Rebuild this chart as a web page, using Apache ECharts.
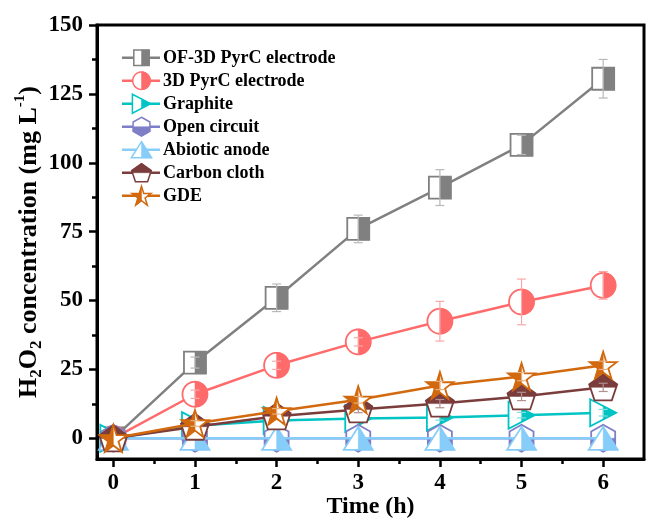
<!DOCTYPE html>
<html>
<head>
<meta charset="utf-8">
<script src="https://cdn.jsdelivr.net/npm/echarts@6/dist/echarts.min.js"></script>
<style>
html, body { margin: 0; padding: 0; background: #fff; }
#chart { width: 648px; height: 518px; }
</style>
</head>
<body>
<div id="chart"></div>
<script>
// x values (hours) and axis ticks
const hours = [0, 1, 2, 3, 4, 5, 6];
const xTicks = [0, 1, 2, 3, 4, 5, 6];
const xMinorTicks = [0.5, 1.5, 2.5, 3.5, 4.5, 5.5];
const yTicks = [0, 25, 50, 75, 100, 125, 150];
const yMinorTicks = [12.5, 37.5, 62.5, 87.5, 112.5, 137.5];

const seriesNames = ['OF-3D PyrC electrode', '3D PyrC electrode', 'Graphite', 'Open circuit',
    'Abiotic anode', 'Carbon cloth', 'GDE'];

// H2O2 concentration (mg/L) and error bars
const ofPyrC = [0, 27.5, 51, 76, 91, 106.5, 130.5];
const ofPyrCErr = [0, 2, 5, 5, 6.5, 3.5, 7];
const pyrC = [0, 16, 26.5, 35, 42.5, 49.5, 55.5];
const pyrCErr = [0, 1.5, 1.5, 1.5, 7.2, 8.3, 5];
const graphite = [0, 4.6, 6.5, 7.2, 7.6, 8.4, 9.3];
const graphiteErr = [0, 0.8, 0.8, 1, 1, 1, 1.2];
const openCircuit = [0, 0, 0, 0, 0, 0, 0];
const openCircuitErr = [0, 0, 0, 0, 0, 0, 0];
const abiotic = [0, 0, 0, 0, 0, 0, 0];
const abioticErr = [0, 0, 0, 0, 0, 0, 0];
const carbonCloth = [0, 4.2, 8, 10.5, 12.6, 15.2, 18.5];
const carbonClothErr = [0, 1, 1.2, 1.2, 1.5, 1.5, 1.5];
const gde = [0, 5.4, 9.8, 14, 19.2, 22.4, 26.5];
const gdeErr = [0, 1, 1, 1.2, 1.5, 1.5, 1.5];

const values = [ofPyrC, pyrC, graphite, openCircuit, abiotic, carbonCloth, gde];
const errors = [ofPyrCErr, pyrCErr, graphiteErr, openCircuitErr, abioticErr, carbonClothErr, gdeErr];

// look of each plot
const looks = [
    { color: '#808080', bar: '#b9b9b9', shape: 'square', w: 22, h: 22 },
    { color: '#ff6b6b', bar: '#f7a9a9', shape: 'circle', w: 25, h: 25 },
    { color: '#00c4c4', bar: '#7fdede', shape: 'triRight', w: 26, h: 27 },
    { color: '#7f7fc8', bar: '#b5b5e0', shape: 'hexagon', w: 24, h: 27 },
    { color: '#87cdf9', bar: '#c0e4fb', shape: 'triUp', w: 29, h: 23 },
    { color: '#7b3c3c', bar: '#b09090', shape: 'pentagon', w: 28, h: 26 },
    { color: '#d2690e', bar: '#e8b080', shape: 'star', w: 27, h: 27 }
];

const FONT = '"Liberation Serif", "Times New Roman", serif';

// shapes in unit box [-0.5, 0.5]; "half" is the filled part
function unitShape(kind) {
    if (kind === 'square') {
        return { full: [[-.5, -.5], [.5, -.5], [.5, .5], [-.5, .5]], half: [[0, -.5], [.5, -.5], [.5, .5], [0, .5]] };
    }
    if (kind === 'circle') {
        const full = [], half = [];
        for (let i = 0; i < 48; i++) {
            const a = i / 48 * 2 * Math.PI;
            full.push([.5 * Math.cos(a), .5 * Math.sin(a)]);
        }
        for (let i = 0; i <= 24; i++) {
            const a = -Math.PI / 2 + i / 24 * Math.PI;
            half.push([.5 * Math.cos(a), .5 * Math.sin(a)]);
        }
        return { full, half };
    }
    if (kind === 'triRight') {
        return { full: [[-.5, -.5], [.5, 0], [-.5, .5]], half: [[0, -.25], [.5, 0], [0, .25]] };
    }
    if (kind === 'hexagon') {
        return {
            full: [[0, -.5], [.5, -.25], [.5, .25], [0, .5], [-.5, .25], [-.5, -.25]],
            half: [[-.5, 0], [.5, 0], [.5, .25], [0, .5], [-.5, .25]]
        };
    }
    if (kind === 'triUp') {
        return { full: [[0, -.5], [.5, .5], [-.5, .5]], half: [[0, -.5], [.5, .5], [0, .5]] };
    }
    if (kind === 'pentagon') {
        return {
            full: [[0, -.5], [.5, -.118], [.309, .5], [-.309, .5], [-.5, -.118]],
            half: [[0, -.5], [.5, -.118], [.4635, 0], [-.4635, 0], [-.5, -.118]]
        };
    }
    // star
    return {
        full: [[0, -.5], [.118, -.118], [.5, -.118], [.191, .118], [.309, .5], [0, .264],
            [-.309, .5], [-.191, .118], [-.5, -.118], [-.118, -.118]],
        half: [[0, -.5], [0, .264], [-.309, .5], [-.191, .118], [-.5, -.118], [-.118, -.118]]
    };
}

function place(points, cx, cy, w, h) {
    return points.map(p => [cx + p[0] * w, cy + p[1] * h]);
}

function markerParts(look, cx, cy, scale, lw) {
    const shp = unitShape(look.shape);
    const w = look.w * scale, h = look.h * scale;
    return [
        { type: 'polygon', shape: { points: place(shp.full, cx, cy, w, h) },
          style: { fill: '#fff', stroke: look.color, lineWidth: lw } },
        { type: 'polygon', shape: { points: place(shp.half, cx, cy, w, h) },
          style: { fill: look.color, stroke: look.color, lineWidth: 0.5 } }
    ];
}

function markerRenderer(look) {
    return function (params, api) {
        const x = api.value(0), y = api.value(1), e = api.value(2);
        const c = api.coord([x, y]);
        const children = markerParts(look, c[0], c[1], 1, 1.8);
        if (e > 0) {
            const t = api.coord([x, y + e]);
            const b = api.coord([x, y - e]);
            const st = { stroke: look.bar, lineWidth: 1.2 };
            children.push({ type: 'line', shape: { x1: c[0], y1: t[1], x2: c[0], y2: b[1] }, style: st });
            children.push({ type: 'line', shape: { x1: c[0] - 4.5, y1: t[1], x2: c[0] + 4.5, y2: t[1] }, style: st });
            children.push({ type: 'line', shape: { x1: c[0] - 4.5, y1: b[1], x2: c[0] + 4.5, y2: b[1] }, style: st });
        }
        return { type: 'group', children };
    };
}

const series = [];
seriesNames.forEach((name, i) => {
    const look = looks[i];
    series.push({
        name,
        type: 'line',
        data: hours.map((h, k) => [h, values[i][k]]),
        symbol: 'none',
        lineStyle: { color: look.color, width: 2.5 },
        z: 10 + i * 2,
        silent: true
    });
    series.push({
        name: name + ' markers',
        type: 'custom',
        data: hours.map((h, k) => [h, values[i][k], errors[i][k]]),
        encode: { x: 0, y: 1 },
        renderItem: markerRenderer(look),
        z: 11 + i * 2,
        silent: true
    });
});

// legend drawn by hand to get the half-filled symbols
const legendItems = [];
seriesNames.forEach((name, i) => {
    const ly = 57.7 + 23 * i;
    const look = looks[i];
    legendItems.push({ type: 'line', shape: { x1: 122, y1: ly, x2: 160, y2: ly },
        style: { stroke: look.color, lineWidth: 2.5 }, z: 50 });
    markerParts(look, 141.5, ly, 0.7, 1.5).forEach(p => { p.z = 51; legendItems.push(p); });
    legendItems.push({ type: 'text', x: 163, y: ly + 1, z: 52,
        style: { text: name, fill: '#000', font: 'bold 18px ' + FONT, verticalAlign: 'middle' } });
});

const labelStyle = { fontFamily: FONT, fontWeight: 'bold', fontSize: 23, color: '#000' };

const option = {
    animation: false,
    backgroundColor: '#fff',
    grid: {
        left: 97, right: 4, top: 25, bottom: 59,
        show: true, borderColor: '#000', borderWidth: 3,
        outerBoundsMode: 'none'
    },
    xAxis: [
        {
            type: 'value', min: -0.2, max: 6.5,
            axisLine: { show: true, onZero: false, lineStyle: { color: '#000', width: 3 } },
            axisTick: { show: true, length: 8, customValues: xTicks, lineStyle: { color: '#000', width: 2.5 } },
            axisLabel: Object.assign({ customValues: xTicks, margin: 13 }, labelStyle),
            splitLine: { show: false },
            name: 'Time (h)', nameLocation: 'middle', nameGap: 36, nameMoveOverlap: false,
            nameTextStyle: { fontFamily: FONT, fontWeight: 'bold', fontSize: 24, color: '#000' }
        },
        {
            type: 'value', min: -0.2, max: 6.5, position: 'bottom',
            axisLine: { show: false, onZero: false },
            axisTick: { show: true, length: 5, customValues: xMinorTicks, lineStyle: { color: '#000', width: 2.5 } },
            axisLabel: { show: false },
            splitLine: { show: false }
        }
    ],
    yAxis: [
        {
            type: 'value', min: -7.5, max: 150,
            axisLine: { show: true, onZero: false, lineStyle: { color: '#000', width: 3 } },
            axisTick: { show: true, length: 8, customValues: yTicks, lineStyle: { color: '#000', width: 2.5 } },
            axisLabel: Object.assign({ customValues: yTicks, margin: 14 }, labelStyle),
            splitLine: { show: false },
            name: '{b|H}{s|2}{b|O}{s|2}{b| concentration (mg L}{p|-1}{b|)}',
            nameLocation: 'middle', nameGap: 52, nameMoveOverlap: false,
            nameTextStyle: {
                rich: {
                    b: { fontFamily: FONT, fontWeight: 'bold', fontSize: 26, color: '#000', lineHeight: 32, verticalAlign: 'middle' },
                    s: { fontFamily: FONT, fontWeight: 'bold', fontSize: 17, color: '#000', lineHeight: 16, verticalAlign: 'bottom' },
                    p: { fontFamily: FONT, fontWeight: 'bold', fontSize: 15, color: '#000', lineHeight: 15, verticalAlign: 'top' }
                }
            }
        },
        {
            type: 'value', min: -7.5, max: 150, position: 'left',
            axisLine: { show: false, onZero: false },
            axisTick: { show: true, length: 5, customValues: yMinorTicks, lineStyle: { color: '#000', width: 2.5 } },
            axisLabel: { show: false },
            splitLine: { show: false }
        }
    ],
    graphic: { elements: legendItems },
    series
};

const chart = echarts.init(document.getElementById('chart'), null, { renderer: 'canvas' });
chart.setOption(option);
</script>
</body>
</html>
